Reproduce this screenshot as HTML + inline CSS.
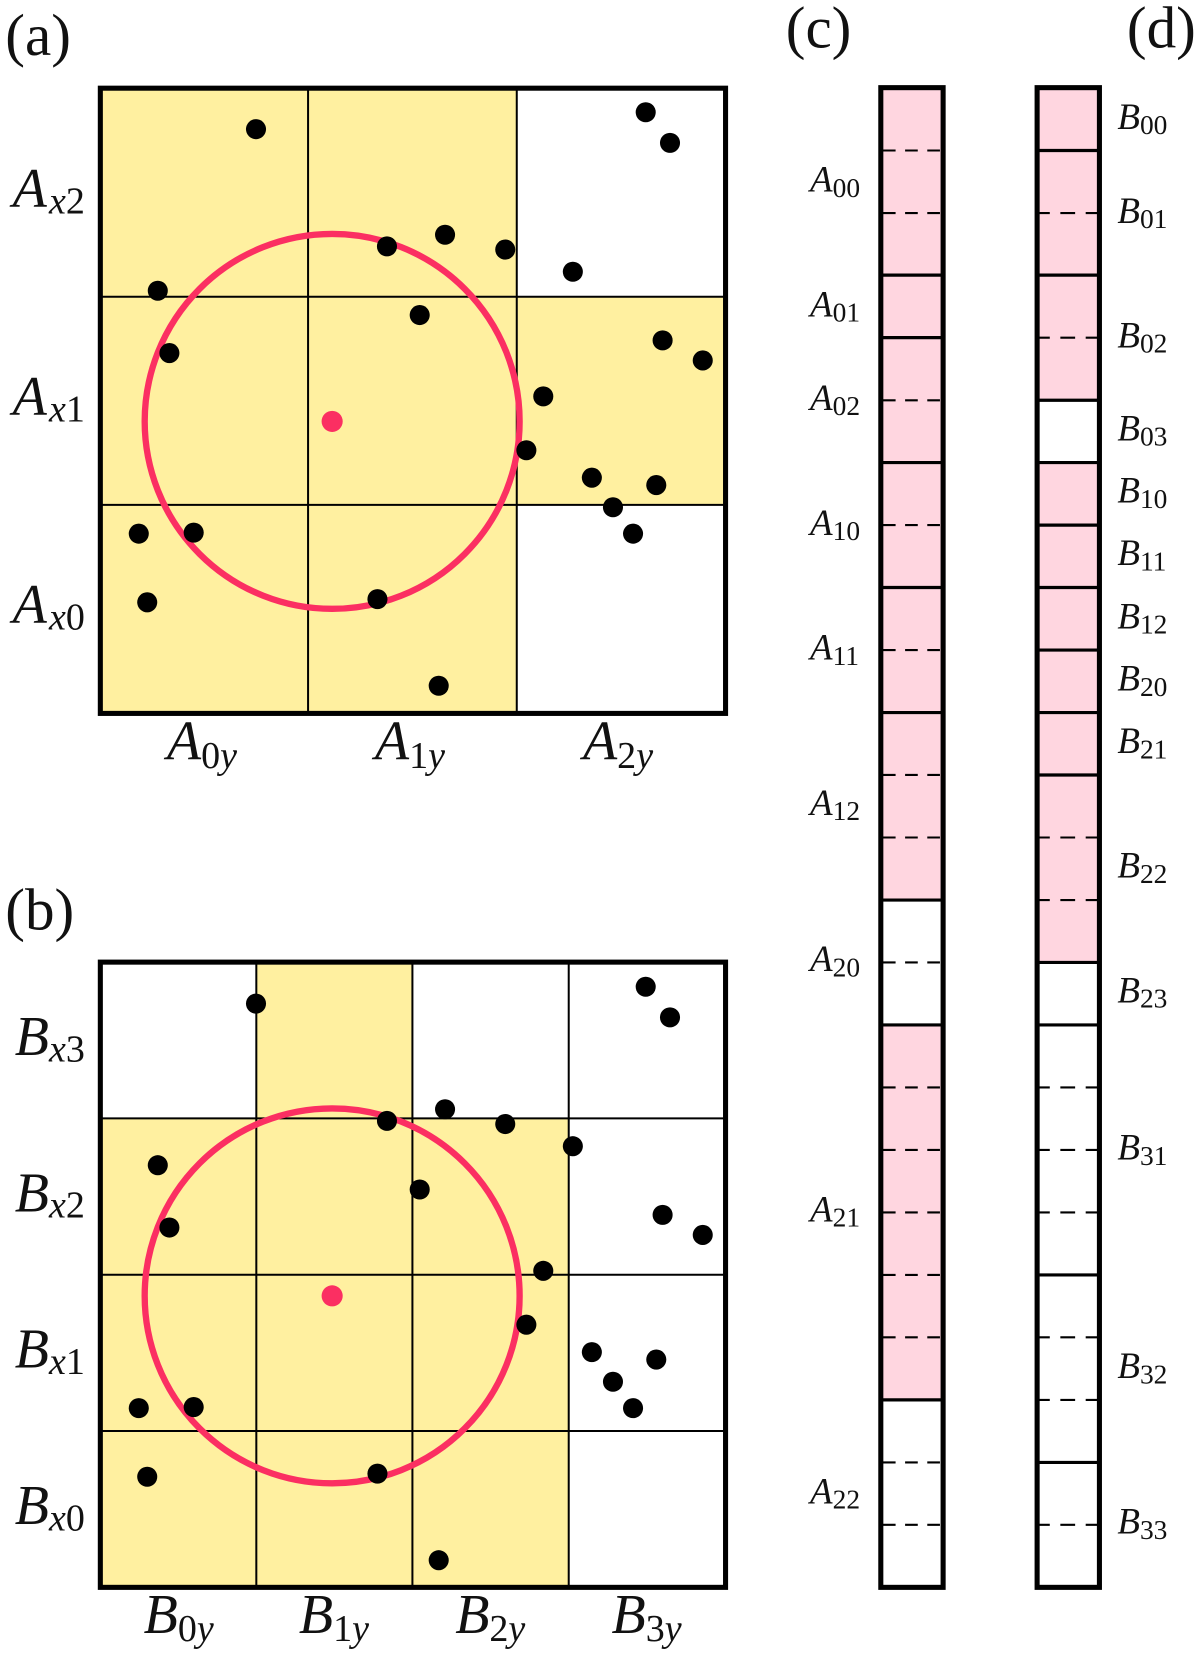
<!DOCTYPE html>
<html><head><meta charset="utf-8"><style>
html,body{margin:0;padding:0;background:#fff}
svg{display:block}
text{font-family:"Liberation Serif",serif;fill:#111}
.p{font-size:56px}
.m{font-size:53px;font-style:italic}
.s{font-size:36px;font-style:normal}
.i{font-style:italic}
.c{font-size:35px;font-style:italic}
.t{font-size:26px;font-style:normal}
.g{stroke:#000;stroke-width:1.9;fill:none}
.b{stroke:#000;stroke-width:4.8;fill:none}
.ln{stroke:#000;stroke-width:3;fill:none}
.d1{stroke:#000;stroke-width:2;stroke-dasharray:12 9;fill:none}
.d2{stroke:#000;stroke-width:2;stroke-dasharray:10 10 14 10 11 100;fill:none}
</style></head><body>
<svg width="1200" height="1656" viewBox="0 0 1136.23 1568" xmlns="http://www.w3.org/2000/svg">
<defs>
<g id="dots" fill="#000">
<circle cx="242.4" cy="122.3" r="9.5"/><circle cx="611.4" cy="106.3" r="9.5"/><circle cx="634.4" cy="135.3" r="9.5"/>
<circle cx="366.4" cy="233.3" r="9.5"/><circle cx="421.4" cy="222.3" r="9.5"/><circle cx="478.4" cy="236.3" r="9.5"/>
<circle cx="542.4" cy="257.3" r="9.5"/><circle cx="149.4" cy="275.3" r="9.5"/><circle cx="397.4" cy="298.3" r="9.5"/>
<circle cx="160.4" cy="334.3" r="9.5"/><circle cx="627.4" cy="322.3" r="9.5"/><circle cx="665.4" cy="341.3" r="9.5"/>
<circle cx="514.4" cy="375.3" r="9.5"/><circle cx="498.4" cy="426.3" r="9.5"/><circle cx="560.4" cy="452.3" r="9.5"/>
<circle cx="621.4" cy="459.3" r="9.5"/><circle cx="580.4" cy="480.3" r="9.5"/><circle cx="599.4" cy="505.3" r="9.5"/>
<circle cx="131.4" cy="505.3" r="9.5"/><circle cx="183.4" cy="504.3" r="9.5"/><circle cx="139.4" cy="570.3" r="9.5"/>
<circle cx="357.4" cy="567.3" r="9.5"/><circle cx="415.4" cy="649.3" r="9.5"/>
</g>
<g id="ring">
<circle cx="314.5" cy="399" r="177.5" fill="none" stroke="#fb2f62" stroke-width="6"/>
<circle cx="314.5" cy="399" r="10" fill="#fb2f62"/>
</g>
</defs>
<rect width="1136.23" height="1568" fill="#fff"/>

<!-- panel a -->
<path d="M95 83.5H489V281H687V478H489V675H95Z" fill="#fff0a0"/>
<path class="g" d="M291.7 83.5V675M489.3 83.5V675M95 281H687M95 478H687"/>
<use href="#ring"/>
<rect class="b" x="95" y="83.5" width="592" height="592"/>
<use href="#dots"/>

<!-- panel b -->
<path d="M242.7 911H390V1059H538.5V1503H95V1059H242.7Z" fill="#fff0a0"/>
<path class="g" d="M242.7 911V1503M390.5 911V1503M538.5 911V1503M95 1059H687M95 1207H687M95 1355H687"/>
<use href="#ring" y="828"/>
<rect class="b" x="95" y="911" width="592" height="592"/>
<use href="#dots" y="828"/>

<!-- column c -->
<rect x="834" y="83" width="59" height="769.2" fill="#ffd6e0"/>
<rect x="834" y="970.3" width="59" height="355" fill="#ffd6e0"/>
<path class="ln" d="M834 260.5H893M834 319.7H893M834 438H893M834 556.3H893M834 674.7H893M834 852.2H893M834 970.5H893M834 1325.5H893"/>
<path class="d1" d="M836 142.5H891M836 201.7H891M836 379H891M836 497.2H891M836 615.5H891M836 733.8H891M836 793H891M836 911.3H891M836 1029.7H891M836 1088.8H891M836 1148H891M836 1207.2H891M836 1266.3H891M836 1384.7H891M836 1443.8H891"/>
<rect class="b" x="834" y="83" width="59" height="1420"/>

<!-- column d -->
<rect x="982" y="83" width="59" height="296" fill="#ffd6e0"/>
<rect x="982" y="438" width="59" height="473.3" fill="#ffd6e0"/>
<path class="ln" d="M982 142.5H1041M982 260.5H1041M982 379H1041M982 438H1041M982 497.2H1041M982 556.3H1041M982 615.5H1041M982 674.7H1041M982 733.8H1041M982 911.3H1041M982 970.5H1041M982 1207.2H1041M982 1384.7H1041"/>
<path class="d2" d="M984 201.7H1039M984 319.7H1039M984 793H1039M984 852.2H1039M984 1029.7H1039M984 1088.8H1039M984 1148H1039M984 1266.3H1039M984 1325.5H1039M984 1443.8H1039"/>
<rect class="b" x="982" y="83" width="59" height="1420"/>

<!-- panel labels -->
<text class="p" x="5" y="52">(a)</text>
<text class="p" x="5" y="880">(b)</text>
<text class="p" x="744" y="45">(c)</text>
<text class="p" x="1067" y="45">(d)</text>

<!-- A row labels -->
<text class="m" x="12" y="196">A<tspan class="s i" dy="6" dx="2">x</tspan><tspan class="s">2</tspan></text>
<text class="m" x="12" y="393">A<tspan class="s i" dy="6" dx="2">x</tspan><tspan class="s">1</tspan></text>
<text class="m" x="12" y="590">A<tspan class="s i" dy="6" dx="2">x</tspan><tspan class="s">0</tspan></text>
<!-- A col labels -->
<text class="m" x="158" y="719">A<tspan class="s" dy="8">0</tspan><tspan class="s i">y</tspan></text>
<text class="m" x="355" y="719">A<tspan class="s" dy="8">1</tspan><tspan class="s i">y</tspan></text>
<text class="m" x="552" y="719">A<tspan class="s" dy="8">2</tspan><tspan class="s i">y</tspan></text>
<!-- B row labels -->
<text class="m" x="14" y="999">B<tspan class="s i" dy="6">x</tspan><tspan class="s">3</tspan></text>
<text class="m" x="14" y="1147">B<tspan class="s i" dy="6">x</tspan><tspan class="s">2</tspan></text>
<text class="m" x="14" y="1295">B<tspan class="s i" dy="6">x</tspan><tspan class="s">1</tspan></text>
<text class="m" x="14" y="1443">B<tspan class="s i" dy="6">x</tspan><tspan class="s">0</tspan></text>
<!-- B col labels -->
<text class="m" x="136" y="1546">B<tspan class="s" dy="8">0</tspan><tspan class="s i">y</tspan></text>
<text class="m" x="283" y="1546">B<tspan class="s" dy="8">1</tspan><tspan class="s i">y</tspan></text>
<text class="m" x="431" y="1546">B<tspan class="s" dy="8">2</tspan><tspan class="s i">y</tspan></text>
<text class="m" x="579" y="1546">B<tspan class="s" dy="8">3</tspan><tspan class="s i">y</tspan></text>

<!-- c labels -->
<text class="c" x="767" y="181.5">A<tspan class="t" dy="5">00</tspan></text>
<text class="c" x="767" y="299.5">A<tspan class="t" dy="5">01</tspan></text>
<text class="c" x="767" y="388">A<tspan class="t" dy="5">02</tspan></text>
<text class="c" x="767" y="506.5">A<tspan class="t" dy="5">10</tspan></text>
<text class="c" x="767" y="624.5">A<tspan class="t" dy="5">11</tspan></text>
<text class="c" x="767" y="771.5">A<tspan class="t" dy="5">12</tspan></text>
<text class="c" x="767" y="919.5">A<tspan class="t" dy="5">20</tspan></text>
<text class="c" x="767" y="1156.5">A<tspan class="t" dy="5">21</tspan></text>
<text class="c" x="767" y="1423.5">A<tspan class="t" dy="5">22</tspan></text>

<!-- d labels -->
<text class="c" x="1058" y="122">B<tspan class="t" dy="5">00</tspan></text>
<text class="c" x="1058" y="211">B<tspan class="t" dy="5">01</tspan></text>
<text class="c" x="1058" y="329">B<tspan class="t" dy="5">02</tspan></text>
<text class="c" x="1058" y="417">B<tspan class="t" dy="5">03</tspan></text>
<text class="c" x="1058" y="476">B<tspan class="t" dy="5">10</tspan></text>
<text class="c" x="1058" y="535">B<tspan class="t" dy="5">11</tspan></text>
<text class="c" x="1058" y="595">B<tspan class="t" dy="5">12</tspan></text>
<text class="c" x="1058" y="654">B<tspan class="t" dy="5">20</tspan></text>
<text class="c" x="1058" y="713">B<tspan class="t" dy="5">21</tspan></text>
<text class="c" x="1058" y="831">B<tspan class="t" dy="5">22</tspan></text>
<text class="c" x="1058" y="949">B<tspan class="t" dy="5">23</tspan></text>
<text class="c" x="1058" y="1098">B<tspan class="t" dy="5">31</tspan></text>
<text class="c" x="1058" y="1305">B<tspan class="t" dy="5">32</tspan></text>
<text class="c" x="1058" y="1452">B<tspan class="t" dy="5">33</tspan></text>
</svg>
</body></html>
